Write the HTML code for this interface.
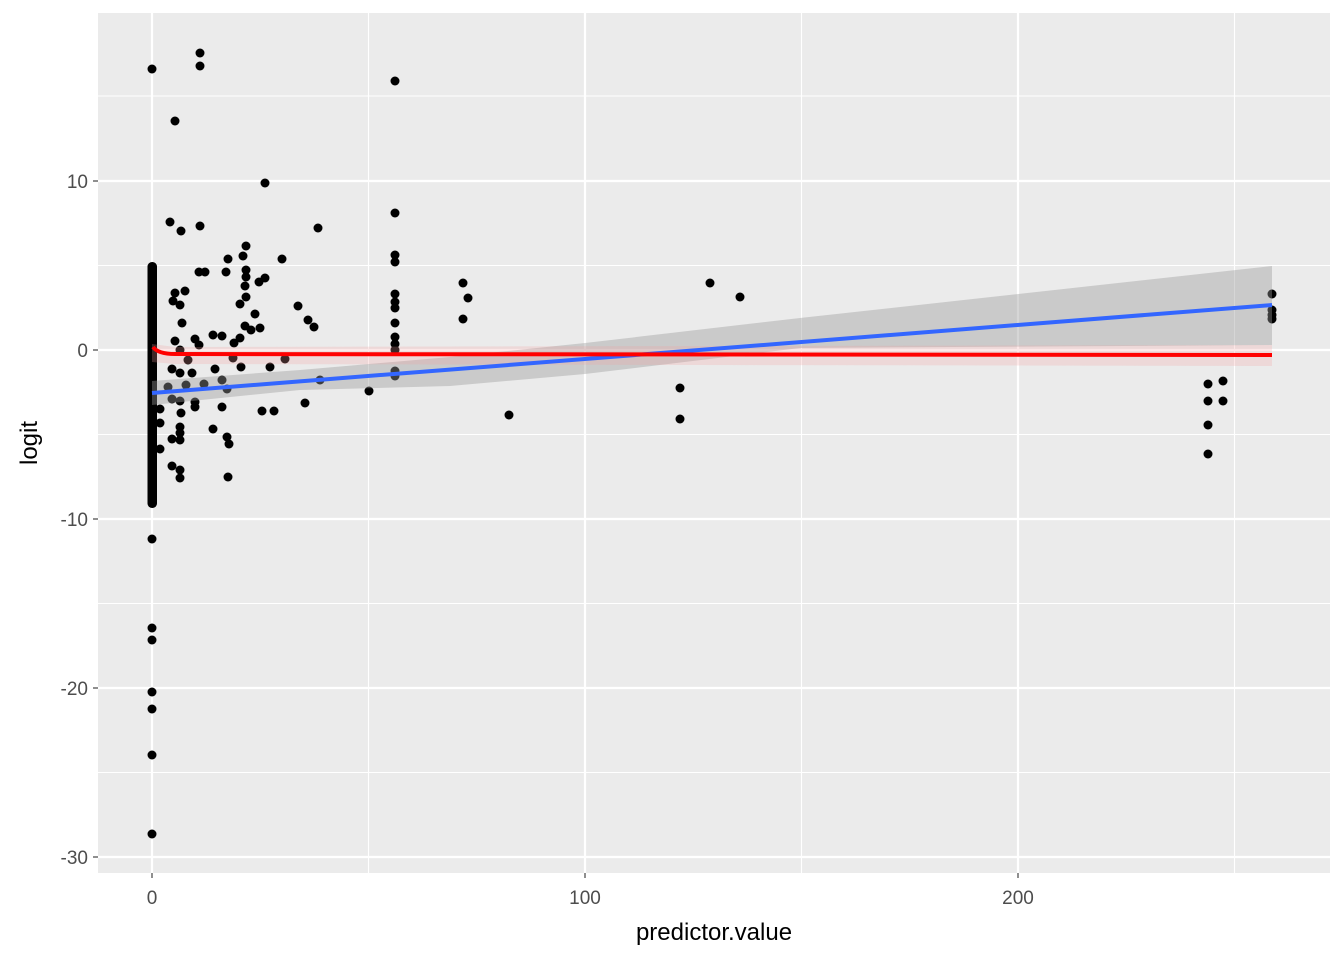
<!DOCTYPE html>
<html><head><style>body{margin:0;background:#fff}svg text{font-family:"Liberation Sans",sans-serif}</style></head><body>
<svg width="1344" height="960" xmlns="http://www.w3.org/2000/svg">
<rect x="98" y="13" width="1232" height="860" fill="#ebebeb"/>
<g stroke="#fff" stroke-width="1.1">
<line x1="98" x2="1330" y1="96" y2="96"/><line x1="98" x2="1330" y1="265.5" y2="265.5"/><line x1="98" x2="1330" y1="434.5" y2="434.5"/><line x1="98" x2="1330" y1="603.5" y2="603.5"/><line x1="98" x2="1330" y1="772.5" y2="772.5"/>
<line y1="13" y2="873" x1="368.5" x2="368.5"/><line y1="13" y2="873" x1="801.5" x2="801.5"/><line y1="13" y2="873" x1="1234.5" x2="1234.5"/>
</g>
<g stroke="#fff" stroke-width="2.2">
<line x1="98" x2="1330" y1="181" y2="181"/><line x1="98" x2="1330" y1="350" y2="350"/><line x1="98" x2="1330" y1="519" y2="519"/><line x1="98" x2="1330" y1="688" y2="688"/><line x1="98" x2="1330" y1="857" y2="857"/>
<line y1="13" y2="873" x1="152" x2="152"/><line y1="13" y2="873" x1="585" x2="585"/><line y1="13" y2="873" x1="1018" x2="1018"/>
</g>
<g fill="#000">
<rect x="147.5" y="262" width="9.5" height="246" rx="4.5"/>
<g>
<circle cx="152" cy="69" r="4.5"/><circle cx="152" cy="539" r="4.5"/><circle cx="152" cy="628" r="4.5"/><circle cx="152" cy="640" r="4.5"/><circle cx="152" cy="692" r="4.5"/><circle cx="152" cy="709" r="4.5"/><circle cx="152" cy="755" r="4.5"/><circle cx="152" cy="834" r="4.5"/>
<circle cx="200" cy="53" r="4.5"/><circle cx="200" cy="66" r="4.5"/><circle cx="175" cy="121" r="4.5"/><circle cx="395" cy="81" r="4.5"/><circle cx="265" cy="183" r="4.5"/>
<circle cx="170" cy="222" r="4.5"/><circle cx="181" cy="231" r="4.5"/><circle cx="200" cy="226" r="4.5"/><circle cx="318" cy="228" r="4.5"/><circle cx="395" cy="213" r="4.5"/>
<circle cx="246" cy="246" r="4.5"/><circle cx="243" cy="256" r="4.5"/><circle cx="228" cy="259" r="4.5"/><circle cx="282" cy="259" r="4.5"/><circle cx="199" cy="272" r="4.5"/><circle cx="205" cy="272" r="4.5"/><circle cx="226" cy="272" r="4.5"/><circle cx="246" cy="270" r="4.5"/><circle cx="246" cy="277" r="4.5"/><circle cx="259" cy="282" r="4.5"/><circle cx="265" cy="278" r="4.5"/>
<circle cx="175" cy="293" r="4.5"/><circle cx="185" cy="291" r="4.5"/><circle cx="173" cy="301" r="4.5"/><circle cx="180" cy="305" r="4.5"/><circle cx="182" cy="323" r="4.5"/><circle cx="245" cy="286" r="4.5"/><circle cx="246" cy="297" r="4.5"/><circle cx="240" cy="304" r="4.5"/><circle cx="255" cy="314" r="4.5"/><circle cx="298" cy="306" r="4.5"/><circle cx="308" cy="320" r="4.5"/><circle cx="314" cy="327" r="4.5"/><circle cx="260" cy="328" r="4.5"/><circle cx="245" cy="326" r="4.5"/><circle cx="251" cy="330" r="4.5"/><circle cx="240" cy="338" r="4.5"/><circle cx="222" cy="336" r="4.5"/><circle cx="234" cy="343" r="4.5"/><circle cx="195" cy="339" r="4.5"/><circle cx="175" cy="341" r="4.5"/><circle cx="180" cy="350" r="4.5"/><circle cx="199" cy="345" r="4.5"/><circle cx="213" cy="335" r="4.5"/>
<circle cx="395" cy="255" r="4.5"/><circle cx="395" cy="262" r="4.5"/><circle cx="395" cy="294" r="4.5"/><circle cx="395" cy="302" r="4.5"/><circle cx="395" cy="308" r="4.5"/><circle cx="395" cy="323" r="4.5"/><circle cx="395" cy="337" r="4.5"/><circle cx="395" cy="344" r="4.5"/><circle cx="395" cy="350" r="4.5"/><circle cx="395" cy="371" r="4.5"/><circle cx="395" cy="376" r="4.5"/>
<circle cx="463" cy="283" r="4.5"/><circle cx="468" cy="298" r="4.5"/><circle cx="463" cy="319" r="4.5"/><circle cx="710" cy="283" r="4.5"/><circle cx="740" cy="297" r="4.5"/>
<circle cx="188" cy="360" r="4.5"/><circle cx="172" cy="369" r="4.5"/><circle cx="180" cy="373" r="4.5"/><circle cx="192" cy="373" r="4.5"/><circle cx="215" cy="369" r="4.5"/><circle cx="233" cy="358" r="4.5"/><circle cx="241" cy="367" r="4.5"/><circle cx="186" cy="385" r="4.5"/><circle cx="168" cy="387" r="4.5"/><circle cx="204" cy="384" r="4.5"/><circle cx="222" cy="380" r="4.5"/><circle cx="227" cy="389" r="4.5"/><circle cx="270" cy="367" r="4.5"/><circle cx="285" cy="359" r="4.5"/><circle cx="320" cy="380" r="4.5"/><circle cx="369" cy="391" r="4.5"/>
<circle cx="172" cy="399" r="4.5"/><circle cx="180" cy="401" r="4.5"/><circle cx="195" cy="402" r="4.5"/><circle cx="195" cy="407" r="4.5"/><circle cx="181" cy="413" r="4.5"/><circle cx="160" cy="409" r="4.5"/><circle cx="222" cy="407" r="4.5"/><circle cx="262" cy="411" r="4.5"/><circle cx="274" cy="411" r="4.5"/><circle cx="305" cy="403" r="4.5"/><circle cx="509" cy="415" r="4.5"/><circle cx="680" cy="388" r="4.5"/><circle cx="680" cy="419" r="4.5"/>
<circle cx="160" cy="423" r="4.5"/><circle cx="180" cy="427" r="4.5"/><circle cx="180" cy="433" r="4.5"/><circle cx="172" cy="439" r="4.5"/><circle cx="180" cy="440" r="4.5"/><circle cx="213" cy="429" r="4.5"/><circle cx="227" cy="437" r="4.5"/><circle cx="229" cy="444" r="4.5"/><circle cx="160" cy="449" r="4.5"/><circle cx="172" cy="466" r="4.5"/><circle cx="180" cy="470" r="4.5"/><circle cx="180" cy="478" r="4.5"/><circle cx="228" cy="477" r="4.5"/>
<circle cx="1208" cy="384" r="4.5"/><circle cx="1223" cy="381" r="4.5"/><circle cx="1208" cy="401" r="4.5"/><circle cx="1223" cy="401" r="4.5"/><circle cx="1208" cy="425" r="4.5"/><circle cx="1208" cy="454" r="4.5"/>
<circle cx="1272" cy="294" r="4.5"/><circle cx="1272" cy="310" r="4.5"/><circle cx="1272" cy="315" r="4.5"/><circle cx="1272" cy="319" r="4.5"/>
</g></g>
<polygon points="152,381 300,370 450,357 585,343 800,318 1272,266 1272,345 800,348 585,374 450,386 300,390 152,405" fill="#999" fill-opacity="0.4"/>
<polygon points="152,344 175,347 1272,345 1272,366 175,364 152,362" fill="#f4a0a0" fill-opacity="0.25"/>
<line x1="152" y1="393" x2="1272" y2="305" stroke="#3366ff" stroke-width="4"/>
<path d="M153,347 Q158,354 175,354 L1272,355" fill="none" stroke="#ff0000" stroke-width="4"/>
<g stroke="#333" stroke-width="1.1">
<line x1="93" x2="98" y1="181" y2="181"/><line x1="93" x2="98" y1="350" y2="350"/><line x1="93" x2="98" y1="519" y2="519"/><line x1="93" x2="98" y1="688" y2="688"/><line x1="93" x2="98" y1="857" y2="857"/>
<line x1="152" x2="152" y1="873" y2="878"/><line x1="585" x2="585" y1="873" y2="878"/><line x1="1018" x2="1018" y1="873" y2="878"/>
</g>
<g fill="#4d4d4d" font-size="19" text-anchor="end">
<text x="88" y="188">10</text><text x="88" y="357">0</text><text x="88" y="526">-10</text><text x="88" y="695">-20</text><text x="88" y="864">-30</text>
</g>
<g fill="#4d4d4d" font-size="19" text-anchor="middle">
<text x="152" y="904">0</text><text x="585" y="904">100</text><text x="1018" y="904">200</text>
</g>
<text x="714" y="940" font-size="24" text-anchor="middle">predictor.value</text>
<text transform="translate(37,443) rotate(-90)" font-size="24" text-anchor="middle">logit</text>
</svg>
</body></html>
